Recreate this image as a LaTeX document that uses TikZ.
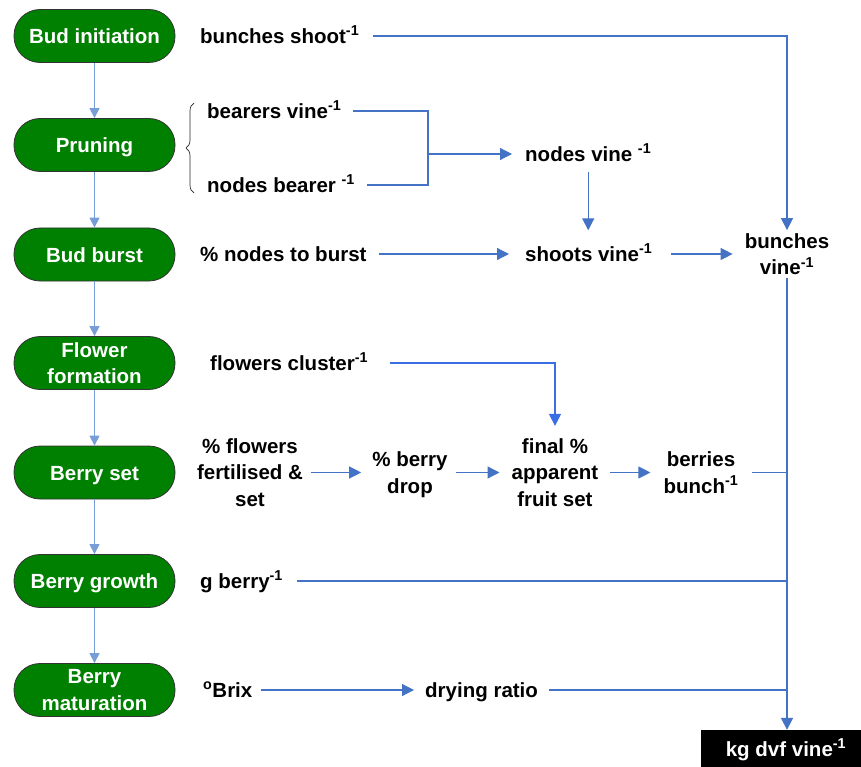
\documentclass[tikz,border=0pt]{standalone}
\usepackage{fontspec}
\setmainfont{Liberation Sans}
\usetikzlibrary{arrows.meta,decorations.pathreplacing}
\definecolor{pillgreen}{RGB}{0,128,0}
\definecolor{lineblue}{RGB}{68,114,196}
\definecolor{pillarr}{RGB}{120,158,216}
\definecolor{brightblue}{RGB}{58,110,228}
\newcommand{\lfont}{\fontsize{20.5}{26.5}\selectfont\bfseries}
\newcommand{\inv}{\textsuperscript{-1}}
\begin{document}
\begin{tikzpicture}[x=1pt,y=-1pt,
  pill/.style={rectangle, rounded corners=26pt, fill=pillgreen, draw=black!80, line width=0.8pt,
    minimum width=161pt, minimum height=53pt, text=white, font=\lfont, align=center, inner sep=0pt, text depth=0pt},
  pillone/.style={pill, text height=15pt},
  lbl/.style={inner sep=0pt, text height=15pt, text depth=0pt, anchor=west, font=\lfont},
  mlbl/.style={inner sep=0pt, text depth=0pt, align=center, font=\lfont},
  ln/.style={draw=lineblue, line width=1.2pt},
  arr/.style={ln, -{Triangle[length=12pt,width=12pt]}},
  parr/.style={draw=pillarr, line width=1.2pt, -{Triangle[length=10pt,width=10pt]}},
]
\useasboundingbox (0,0) rectangle (861,767);
% stage pills
\node[pillone] (p1) at (94.5,36) {Bud initiation};
\node[pillone] (p2) at (94.5,145) {Pruning};
\node[pillone] (p3) at (94.5,254.5) {Bud burst};
\node[pill] (p4) at (94.5,363) {Flower\\formation};
\node[pillone] (p5) at (94.5,472.5) {Berry set};
\node[pillone] (p6) at (94.5,581) {Berry growth};
\node[pill] (p7) at (94.5,690) {Berry\\maturation};
% labels
\node[lbl] (bs) at (200,36) {bunches shoot\inv};
\node[lbl] (bvi) at (207,111) {bearers vine\inv};
\node[lbl] (nb) at (207,185) {nodes bearer \inv};
\node[lbl] (nv) at (525,154) {nodes vine \inv};
\node[lbl] (pb) at (200,254) {\% nodes to burst};
\node[lbl] (sv) at (525,254) {shoots vine\inv};
\node[mlbl] (bv) at (787,254) {bunches\\vine\inv};
\node[lbl] (fc) at (210,363) {flowers cluster\inv};
\node[mlbl] (ff) at (250,472.5) {\% flowers\\fertilised \&\\set};
\node[mlbl] (bd) at (410,472.5) {\% berry\\drop};
\node[mlbl] (fs) at (555,472.5) {final \%\\apparent\\fruit set};
\node[mlbl] (bb) at (701,472.5) {berries\\bunch\inv};
\node[lbl] (gb) at (200,581) {g berry\inv};
\node[lbl] (bx) at (203,690) {\textsuperscript{o}Brix};
\node[lbl] (dr) at (425,690) {drying ratio};
\node[fill=black, text=white, font=\lfont, minimum width=160pt, minimum height=37pt, inner sep=0pt,
  text height=15pt, text depth=0pt] (kg) at (781,748.5) {\hspace*{10pt}kg dvf vine\inv};
\coordinate (jx) at (428,154);
% brace
\draw[decorate, decoration={brace, amplitude=8pt}, line width=0.7pt, black!85] (194,193) -- (194,103);
% pill arrows
\draw[parr] (p1.south) -- (p2.north);
\draw[parr] (p2.south) -- (p3.north);
\draw[parr] (p3.south) -- (p4.north);
\draw[parr] (p4.south) -- (p5.north);
\draw[parr] (p5.south) -- (p6.north);
\draw[parr] (p6.south) -- (p7.north);
% connectors
\draw[arr, shorten <=14pt, shorten >=3pt] (bs.east) -| (bv.north);
\draw[ln, shorten <=12pt, shorten >=12pt] (bvi.east) -| (jx) |- (nb.east);
\draw[arr, shorten >=13pt] (jx) -- (nv.west);
\draw[arr, shorten <=10.5pt, shorten >=16pt] (nv.south) -- (nv.south |- sv.north);
\draw[arr, shorten <=12pt, shorten >=16pt] (pb.east) -- (sv.west);
\draw[arr, shorten <=18pt, shorten >=12pt] (sv.east) -- (sv.east -| bv.west);
\draw[ln, line width=1.8pt, shorten <=3.5pt, -{Triangle[length=12pt,width=12pt]}] (bv.south) -- (bv.south |- kg.north);
\draw[arr, draw=brightblue, shorten <=22pt, shorten >=12.5pt] (fc.east) -| (fs.north);
\draw[arr, shorten <=8pt, shorten >=11pt] (ff.east) -- (ff.east -| bd.west);
\draw[arr, shorten <=8pt, shorten >=12pt] (bd.east) -- (bd.east -| fs.west);
\draw[arr, shorten <=12pt, shorten >=13pt] (fs.east) -- (fs.east -| bb.west);
\draw[ln, shorten <=13pt] (bb.east) -- (bb.east -| bv.south);
\draw[ln, shorten <=14pt] (gb.east) -- (gb.east -| bv.south);
\draw[arr, shorten <=8pt, shorten >=11pt] (bx.east) -- (dr.west);
\draw[ln, shorten <=11pt] (dr.east) -- (dr.east -| bv.south);
\end{tikzpicture}
\end{document}
